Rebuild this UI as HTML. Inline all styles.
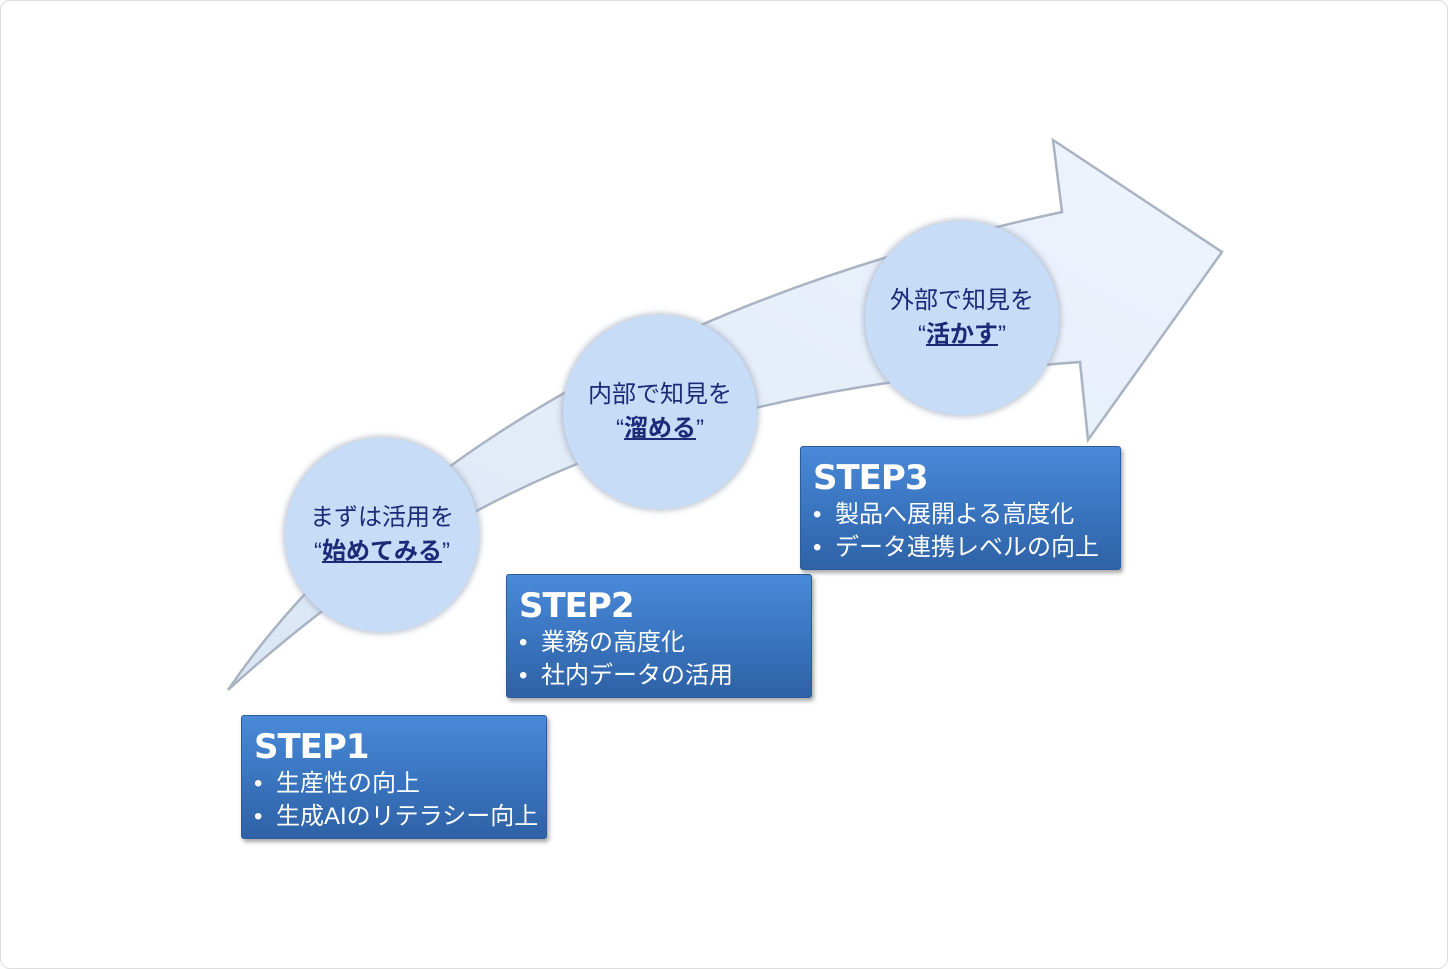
<!DOCTYPE html>
<html><head><meta charset="utf-8"><style>
body{margin:0;width:1448px;height:969px;background:#fff;overflow:hidden;font-family:"Liberation Sans","Noto Sans CJK JP",sans-serif}
.frame{position:absolute;left:0;top:0;width:1446px;height:967px;border:1px solid #ddd;border-radius:10px}
.box{position:absolute;color:#fff;background:linear-gradient(#4a8ad8,#3a75c0 50%,#2f62a6);border:1px solid #2c5c9a;border-radius:3px;box-shadow:2px 3px 4px rgba(0,0,0,.35);box-sizing:border-box;padding-left:12px}
.box h2{margin:0;font:bold 34px "DejaVu Sans",sans-serif;letter-spacing:-1px;line-height:40px;margin-top:11px}
.box div{font-size:24px;line-height:33px;white-space:nowrap}
.box div b{font-weight:normal;display:inline-block;width:22px}
.c{position:absolute;width:194px;height:194px;border-radius:50%;background:#c6dcf7;box-shadow:0 0 6px 2px rgba(150,160,180,.6);text-align:center;color:#1c2a78;font-size:24px;line-height:34px;display:flex;flex-direction:column;justify-content:center}
.c u{font-weight:bold}
</style></head><body>
<div class="frame"></div>
<svg width="1448" height="969" style="position:absolute;left:0;top:0">
<defs><linearGradient id="g" x1="0" y1="1" x2="1" y2="0"><stop offset="0" stop-color="#dbe6f5"/><stop offset="1" stop-color="#eef4fd"/></linearGradient></defs>
<path d="M228,690 C330,540 560,320 1062,212 L1053,140 L1222,252 L1088,440 L1080,362 C700,390 470,470 228,690 Z" fill="url(#g)" stroke="#a9b3c2" stroke-width="2.5"/>
</svg>
<div class="c" style="left:285px;top:438px">まずは活用を<span>“<u>始めてみる</u>”</span></div>
<div class="c" style="left:563px;top:315px">内部で知見を<span>“<u>溜める</u>”</span></div>
<div class="c" style="left:865px;top:221px">外部で知見を<span>“<u>活かす</u>”</span></div>
<div class="box" style="left:241px;top:715px;width:306px;height:124px"><h2>STEP1</h2><div><b>•</b>生産性の向上</div><div><b>•</b>生成AIのリテラシー向上</div></div>
<div class="box" style="left:506px;top:574px;width:306px;height:124px"><h2>STEP2</h2><div><b>•</b>業務の高度化</div><div><b>•</b>社内データの活用</div></div>
<div class="box" style="left:800px;top:446px;width:321px;height:124px"><h2>STEP3</h2><div><b>•</b>製品へ展開よる高度化</div><div><b>•</b>データ連携レベルの向上</div></div>
</body></html>
